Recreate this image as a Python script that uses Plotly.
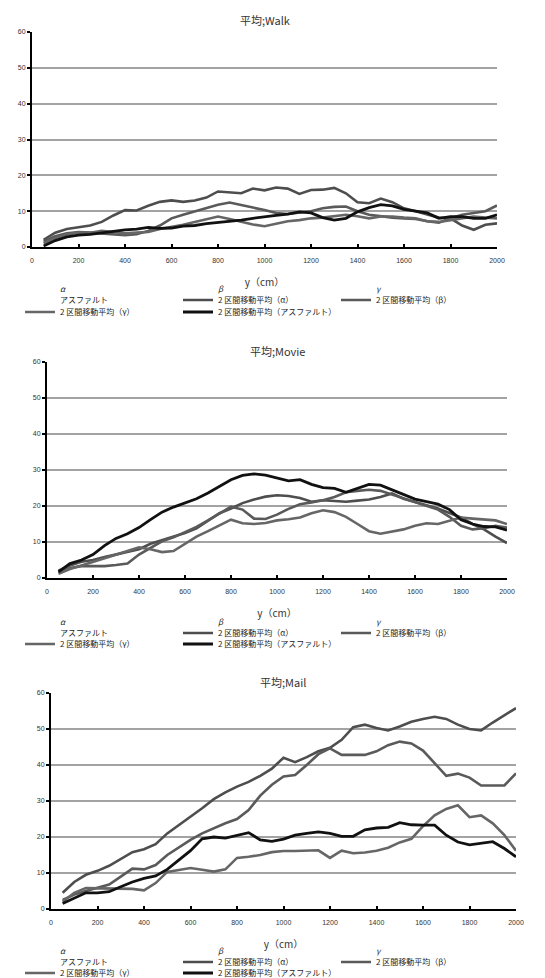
import plotly.graph_objects as go

W, H = 545, 978

# ---------------- data ----------------
distance_cm = [50, 100, 150, 200, 250, 300, 350, 400, 450, 500,
               550, 600, 650, 700, 750, 800, 850, 900, 950, 1000,
               1050, 1100, 1150, 1200, 1250, 1300, 1350, 1400, 1450, 1500,
               1550, 1600, 1650, 1700, 1750, 1800, 1850, 1900, 1950, 2000]

x_ticks = [0, 200, 400, 600, 800, 1000, 1200, 1400, 1600, 1800, 2000]
y_ticks = [0, 10, 20, 30, 40, 50, 60]

panel_titles = ["平均;Walk", "平均;Movie", "平均;Mail"]
x_title = "y（cm）"

raw_names = ["<i>α</i>", "<i>β</i>", "<i>γ</i>", "アスファルト"]
ma_names = ["2 区間移動平均（α）", "2 区間移動平均（β）",
            "2 区間移動平均（γ）", "2 区間移動平均（アスファルト）"]

walk_ma_alpha = [2.0, 4.0, 5.0, 5.5, 6.0, 7.0, 8.8, 10.3, 10.2, 11.5,
                 12.6, 13.0, 12.6, 13.0, 13.8, 15.5, 15.2, 15.0, 16.3, 15.8,
                 16.6, 16.3, 14.8, 15.9, 16.0, 16.5, 15.0, 12.5, 12.2, 13.5,
                 12.5, 10.8, 10.0, 9.0, 8.2, 8.0, 6.0, 4.8, 6.2, 6.6]
walk_ma_beta = [1.5, 3.0, 3.8, 4.2, 4.0, 3.8, 3.5, 3.3, 3.6, 4.5,
                6.0, 8.0, 9.0, 10.0, 10.8, 11.8, 12.4, 11.8, 11.0, 10.3,
                9.5, 9.2, 9.5, 10.0, 10.8, 11.2, 11.3, 10.0, 9.0, 8.5,
                8.2, 8.0, 7.8, 7.2, 6.8, 8.0, 9.0, 9.5, 10.0, 11.6]
walk_ma_gamma = [1.0, 2.5, 3.5, 4.0, 4.0, 4.5, 4.2, 3.8, 4.0, 4.2,
                 5.0, 5.5, 6.2, 7.0, 7.8, 8.5, 7.8, 7.0, 6.3, 5.8,
                 6.5, 7.2, 7.5, 8.0, 8.2, 8.5, 9.0, 8.6, 8.0, 8.5,
                 8.5, 8.2, 8.0, 7.2, 7.0, 7.5, 8.0, 8.5, 8.2, 8.0]
walk_ma_asphalt = [0.3, 1.8, 2.8, 3.3, 3.5, 4.0, 4.5, 4.8, 5.0, 5.5,
                   5.2, 5.3, 5.8, 6.0, 6.5, 6.8, 7.0, 7.5, 8.0, 8.5,
                   8.8, 9.2, 9.8, 9.5, 8.2, 7.5, 8.0, 9.8, 11.0, 11.8,
                   11.5, 10.5, 10.0, 9.5, 8.0, 8.5, 8.5, 8.0, 8.0, 9.0]

movie_ma_alpha = [2.0, 3.5, 4.5, 5.0, 5.8, 6.5, 7.3, 8.0, 9.5, 10.5,
                  11.5, 12.5, 13.8, 16.0, 18.0, 19.3, 20.8, 21.8, 22.6, 23.0,
                  22.8, 22.2, 21.2, 21.6, 21.4, 21.2, 21.5, 21.8, 22.5, 23.5,
                  22.0, 21.0, 20.2, 19.3, 18.0, 16.8, 15.0, 13.5, 11.5, 9.7]
movie_ma_beta = [1.5, 2.8, 3.3, 3.2, 3.3, 3.6, 4.0, 6.5, 8.4, 10.2,
                 11.3, 12.8, 14.2, 16.0, 18.0, 19.8, 19.0, 16.5, 16.4, 17.6,
                 19.2, 20.5, 21.0, 21.6, 22.5, 23.8, 24.2, 24.5, 24.2, 23.2,
                 22.0, 21.0, 20.2, 19.0, 17.0, 14.5, 13.5, 13.8, 14.5, 14.0]
movie_ma_gamma = [1.2, 2.5, 3.5, 4.5, 5.5, 6.5, 7.5, 8.5, 8.0, 7.2,
                  7.5, 9.5, 11.5, 13.0, 14.5, 16.2, 15.2, 15.0, 15.3, 16.0,
                  16.3, 16.8, 18.0, 18.8, 18.3, 17.0, 15.0, 13.0, 12.3, 12.8,
                  13.5, 14.5, 15.2, 15.0, 16.0, 16.8, 16.5, 16.3, 16.0, 15.0]
movie_ma_asphalt = [1.7, 4.0, 5.0, 6.5, 9.0, 11.0, 12.3, 14.0, 16.2, 18.3,
                    19.7, 20.8, 22.0, 23.6, 25.5, 27.3, 28.5, 28.9, 28.6, 27.8,
                    27.0, 27.3, 26.0, 25.1, 24.9, 23.8, 24.8, 26.0, 25.8, 24.5,
                    23.3, 21.9, 21.2, 20.5, 19.0, 16.2, 15.0, 14.3, 14.2, 13.3]

mail_ma_alpha = [4.5, 7.5, 9.5, 10.6, 12.0, 14.0, 15.8, 16.6, 18.0, 21.0,
                 23.3, 25.5, 28.0, 30.5, 32.4, 34.0, 35.3, 37.0, 39.0, 42.0,
                 40.8, 42.2, 43.8, 44.8, 47.0, 50.5, 51.2, 50.3, 49.6, 50.7,
                 52.0, 52.8, 53.4, 52.8, 51.2, 50.0, 49.6, 51.8, 53.9, 55.8]
mail_ma_beta = [2.5, 4.0, 5.0, 5.8, 6.8, 9.0, 11.2, 11.0, 12.2, 15.0,
                17.2, 19.2, 21.0, 22.5, 23.8, 25.0, 27.5, 31.5, 34.5, 36.8,
                37.2, 40.0, 43.0, 44.6, 42.8, 42.8, 42.8, 43.8, 45.5, 46.5,
                46.0, 44.0, 40.5, 37.0, 37.6, 36.5, 34.3, 34.2, 34.3, 37.7]
mail_ma_gamma = [2.0, 4.5, 5.8, 5.8, 5.8, 5.8, 5.6, 5.2, 7.2, 10.3,
                 10.9, 11.4, 10.9, 10.4, 11.0, 14.2, 14.5, 15.0, 15.8, 16.1,
                 16.1, 16.2, 16.3, 14.2, 16.2, 15.5, 15.7, 16.2, 17.0, 18.5,
                 19.5, 23.0, 26.0, 27.8, 28.8, 25.5, 26.0, 23.8, 20.5, 16.2]
mail_ma_asphalt = [1.5, 3.0, 4.5, 4.5, 4.8, 6.2, 7.5, 8.5, 9.2, 11.0,
                   13.5, 16.2, 19.5, 20.0, 19.7, 20.5, 21.2, 19.2, 18.8, 19.4,
                   20.5, 21.0, 21.4, 21.0, 20.2, 20.2, 22.0, 22.5, 22.7, 24.0,
                   23.4, 23.3, 23.3, 20.5, 18.6, 17.8, 18.3, 18.7, 16.8, 14.5]

panels_data = [
    [walk_ma_alpha, walk_ma_beta, walk_ma_gamma, walk_ma_asphalt],
    [movie_ma_alpha, movie_ma_beta, movie_ma_gamma, movie_ma_asphalt],
    [mail_ma_alpha, mail_ma_beta, mail_ma_gamma, mail_ma_asphalt],
]

# ---------------- styles / layout geometry (pixels) ----------------
ma_colors = ["#4e4e4e", "#5a5a5a", "#666666", "#111111"]
ma_widths = [2.6, 2.6, 2.6, 2.8]

# plot area per panel: left, right, top, bottom (px)
boxes = [(32, 497, 32, 247), (47, 507, 362, 578), (51, 516, 693, 909)]
title_y = [20, 351, 682]
legend_rows = [(289, 300, 312), (622, 633, 644), (951, 962, 973)]
legend_x = [20, 20, 20]

FONT_LAT = "Liberation Sans, Arial, sans-serif"
FONT_JP = "Noto Sans CJK JP, sans-serif"

fig = go.Figure()
layout = dict(
    width=W, height=H,
    margin=dict(l=0, r=0, t=0, b=0, autoexpand=False),
    paper_bgcolor="white", plot_bgcolor="white",
    showlegend=True,
    annotations=[],
)


def px_x(p):
    return p / W


def px_y(p):
    return 1 - p / H


for k in range(3):
    sx = "" if k == 0 else str(k + 1)
    xa, ya = "x" + sx, "y" + sx
    L, R, T, B = boxes[k]
    leg = ["legend" + ("" if 3 * k + r == 0 else str(3 * k + r + 1)) for r in range(3)]
    # rows: [α, β, γ] / [アスファルト, MA α, MA β] / [MA γ, MA アスファルト]
    raw_leg = [leg[0], leg[0], leg[0], leg[1]]
    ma_leg = [leg[1], leg[1], leg[2], leg[2]]

    for i, nm in enumerate(raw_names):
        fig.add_trace(go.Scatter(
            x=[None], y=[None], mode="lines", name=nm,
            line=dict(width=0, color="rgba(0,0,0,0)"),
            xaxis=xa, yaxis=ya, legend=raw_leg[i], hoverinfo="skip"))
    for i, nm in enumerate(ma_names):
        fig.add_trace(go.Scatter(
            x=distance_cm, y=panels_data[k][i], mode="lines", name=nm,
            line=dict(width=ma_widths[i], color=ma_colors[i]),
            xaxis=xa, yaxis=ya, legend=ma_leg[i]))

    layout["xaxis" + sx] = dict(
        domain=[px_x(L), px_x(R)], anchor=ya, range=[0, 2000],
        tickvals=x_ticks, ticktext=[str(v) for v in x_ticks],
        showline=True, linecolor="black", linewidth=2,
        ticks="inside", ticklen=3, tickcolor="black", tickwidth=1.5,
        ticklabelstandoff=6,
        showgrid=False, zeroline=False,
        tickfont=dict(family=FONT_LAT, size=7, color="#333333"),
        title=dict(text=x_title, standoff=16,
                   font=dict(family=FONT_JP, size=10, color="#333333")),
    )
    layout["yaxis" + sx] = dict(
        domain=[px_y(B), px_y(T)], anchor=xa, range=[0, 60],
        tickvals=y_ticks, ticktext=[str(v) for v in y_ticks],
        showline=True, linecolor="black", linewidth=2,
        ticks="outside", ticklen=3, tickcolor="black", tickwidth=1.5,
        showgrid=True, gridcolor="#a3a3a3", gridwidth=1.6, zeroline=False,
        tickfont=dict(family=FONT_LAT, size=7, color="#333333"),
    )
    layout["annotations"].append(dict(
        text=panel_titles[k], xref="paper", yref="paper",
        x=px_x((L + R) / 2), y=px_y(title_y[k]), xanchor="center", yanchor="middle",
        showarrow=False, font=dict(family=FONT_JP, size=11, color="#333333")))

    for r in range(3):
        layout[leg[r]] = dict(
            orientation="h", x=px_x(legend_x[k]), xanchor="left",
            y=px_y(legend_rows[k][r]), yanchor="middle",
            bgcolor="rgba(0,0,0,0)", borderwidth=0,
            entrywidth=113, entrywidthmode="pixels", itemwidth=30,
            traceorder="normal",
            font=dict(family=FONT_JP, size=8, color="#222222"),
        )

fig.update_layout(**layout)
fig.write_html("out.html",
               config={"displayModeBar": False},
               post_script="document.body.style.margin='0';document.body.style.padding='0';")
